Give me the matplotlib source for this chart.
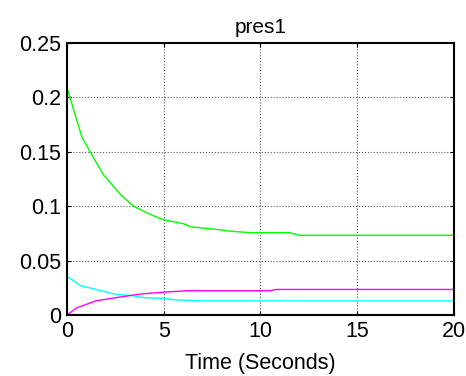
import numpy as np
import matplotlib.pyplot as plt

plt.rcParams['font.family'] = ['Liberation Sans', 'DejaVu Sans']

# values
t_green = [0, 0.76, 1.19, 1.88, 2.75, 3.44, 4.3, 4.9, 6.0, 6.4, 7.6, 8.45, 9.5, 11.5, 12.0, 20]
green = [0.209, 0.164, 0.150, 0.129, 0.111, 0.100, 0.0925, 0.088, 0.084, 0.081, 0.079, 0.077, 0.0757, 0.0757, 0.0733, 0.0733]

t_cyan = [0, 0.7, 1.5, 2.5, 3.3, 4.0, 5.0, 5.5, 7.0, 20]
cyan = [0.0355, 0.027, 0.0235, 0.019, 0.018, 0.0159, 0.0153, 0.014, 0.013, 0.013]

t_mag = [0, 0.5, 1.5, 2.5, 3.3, 4.0, 5.0, 6.2, 10.5, 10.8, 20]
magenta = [0, 0.0066, 0.013, 0.0159, 0.018, 0.0196, 0.021, 0.0223, 0.0223, 0.0235, 0.0235]

fig = plt.figure(figsize=(4.66, 3.76), dpi=100)
ax = fig.add_axes([0.1438, 0.1622, 0.974 - 0.1438, 0.8856 - 0.1622])

ax.plot(t_green, green, color='#00ff00', lw=1)
ax.plot(t_cyan, cyan, color='#00ffff', lw=1)
ax.plot(t_mag, magenta, color='#ff00ff', lw=1)

ax.set_xlim(0, 20)
ax.set_ylim(0, 0.25)
ax.set_xticks([0, 5, 10, 15, 20])
ax.set_yticks([0, 0.05, 0.1, 0.15, 0.2, 0.25])
ax.set_yticklabels(['0', '0.05', '0.1', '0.15', '0.2', '0.25'])
ax.tick_params(direction='in', top=True, right=True, labelsize=15.5, length=3, pad=4)
ax.grid(True, color='#555555', ls=':', lw=0.8)
for s in ax.spines.values():
    s.set_linewidth(1.5)

ax.set_title('pres1', fontsize=15, pad=7)
ax.set_xlabel('Time (Seconds)', fontsize=15.5, labelpad=8)

fig.savefig('out.png')
